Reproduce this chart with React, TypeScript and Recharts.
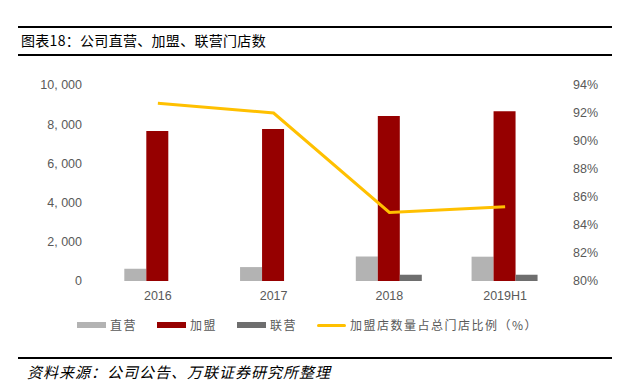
import React from 'react';
import { ComposedChart, Bar, Line, XAxis, YAxis } from 'recharts';

const categories = ['2016', '2017', '2018', '2019H1'];
const directStores = [620, 710, 1250, 1240];
const franchiseStores = [7650, 7750, 8420, 8660];
const jointStores = [0, 0, 320, 320];
const franchiseRatio = [0.927, 0.92, 0.849, 0.853];

const leftTicks = [0, 2000, 4000, 6000, 8000, 10000];
const rightTicks = [0.8, 0.82, 0.84, 0.86, 0.88, 0.9, 0.92, 0.94];

const data = categories.map((name, i) => ({
  name,
  direct: directStores[i],
  franchise: franchiseStores[i],
  joint: jointStores[i],
  ratio: franchiseRatio[i],
}));

const FONT = '"Liberation Sans", Arial, sans-serif';
const CJK = '"Noto Sans CJK SC", sans-serif';
const tickStyle = { fill: '#595959', fontSize: 12.5, fontFamily: FONT };

const legendItems = [
  { label: '直营', color: '#b3b3b3', line: false },
  { label: '加盟', color: '#960000', line: false },
  { label: '联营', color: '#6e6e6e', line: false },
  { label: '加盟店数量占总门店比例（%）', color: '#ffc000', line: true },
];

const fmtLeft = (v: number) => v.toLocaleString('en-US').replace(',', ', ');
const fmtRight = (v: number) => `${Math.round(v * 100)}%`;

const App: React.FC = () => {
  return (
    <div style={{ position: 'absolute', left: 0, top: 0, width: 629, height: 391, background: '#fff' }}>
      <div style={{ position: 'absolute', left: 18, top: 26, width: 594, height: 2, background: '#000' }} />
      <div
        style={{
          position: 'absolute',
          left: 21,
          top: 31,
          fontFamily: CJK,
          fontSize: 14,
          lineHeight: '18px',
          color: '#000',
          letterSpacing: 0.3,
        }}
      >
        图表18：公司直营、加盟、联营门店数
      </div>
      <div style={{ position: 'absolute', left: 18, top: 54, width: 594, height: 2, background: '#000' }} />

      <ComposedChart
        width={629}
        height={391}
        data={data}
        margin={{ top: 85, right: 6, left: 10, bottom: 80 }}
        barCategoryGap="21%"
        barGap={0}
        style={{ position: 'absolute', left: 0, top: 0 }}
      >
        <XAxis
          dataKey="name"
          axisLine={false}
          tickLine={false}
          tickSize={0}
          tickMargin={10}
          height={30}
          tick={tickStyle}
        />
        <YAxis
          yAxisId="left"
          domain={[0, 10000]}
          ticks={leftTicks}
          tickFormatter={fmtLeft}
          axisLine={false}
          tickLine={false}
          tickSize={0}
          tickMargin={18}
          width={90}
          tick={tickStyle}
        />
        <YAxis
          yAxisId="right"
          orientation="right"
          domain={[0.8, 0.94]}
          ticks={rightTicks}
          tickFormatter={fmtRight}
          axisLine={false}
          tickLine={false}
          tickSize={0}
          tickMargin={10}
          width={60}
          tick={tickStyle}
        />
        <Bar yAxisId="left" dataKey="direct" name="直营" fill="#b3b3b3" isAnimationActive={false} />
        <Bar yAxisId="left" dataKey="franchise" name="加盟" fill="#960000" isAnimationActive={false} />
        <Bar yAxisId="left" dataKey="joint" name="联营" fill="#6e6e6e" isAnimationActive={false} />
        <Line
          yAxisId="right"
          type="linear"
          dataKey="ratio"
          name="加盟店数量占总门店比例（%）"
          stroke="#ffc000"
          strokeWidth={3}
          dot={false}
          isAnimationActive={false}
        />
      </ComposedChart>

      <div
        style={{
          position: 'absolute',
          left: 77,
          top: 317,
          display: 'flex',
          alignItems: 'center',
          fontFamily: CJK,
          fontSize: 12,
          lineHeight: '16px',
          color: '#595959',
          letterSpacing: 1.5,
        }}
      >
        {legendItems.map(item => (
          <div key={item.label} style={{ display: 'flex', alignItems: 'center', marginRight: 20 }}>
            <span
              style={{
                display: 'inline-block',
                width: 29,
                height: item.line ? 3 : 6,
                background: item.color,
                marginRight: 4,
                borderRadius: item.line ? 2 : 0,
              }}
            />
            <span>{item.label}</span>
          </div>
        ))}
      </div>

      <div style={{ position: 'absolute', left: 18, top: 357, width: 594, height: 2, background: '#000' }} />
      <div
        style={{
          position: 'absolute',
          left: 27,
          top: 362,
          fontFamily: CJK,
          fontSize: 15,
          lineHeight: '20px',
          fontStyle: 'italic',
          color: '#000',
          letterSpacing: 1,
        }}
      >
        资料来源：公司公告、万联证券研究所整理
      </div>
    </div>
  );
};

export default App;
